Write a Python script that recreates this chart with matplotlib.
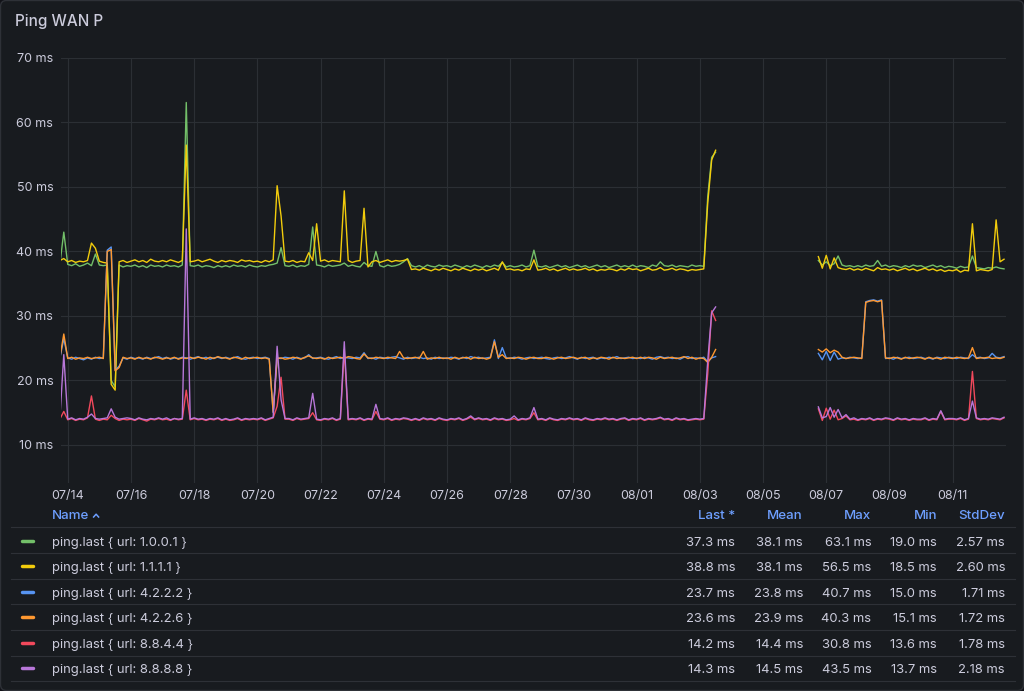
import matplotlib.pyplot as plt
import matplotlib.dates as mdates
from matplotlib.lines import Line2D
from matplotlib.patches import FancyBboxPatch
from matplotlib.transforms import IdentityTransform
import pandas as pd

plt.rcParams['font.family'] = ['Inter', 'DejaVu Sans']

nan = float('nan')

# samples every 3 h, starting 07/13 18:00
START = '2024-07-13 18:00'

URL_1001 = [
    38.0, 43.0,                                      # 07/13
    38.0, 37.8, 38.1, 37.7, 37.9, 38.2, 37.8, 39.6,  # 07/14
    37.9, 37.8, 37.9, 20.0, 19.0, 37.9, 37.6, 37.8,  # 07/15
    37.7, 37.9, 37.6, 37.8, 37.5, 37.9, 37.7, 37.8,  # 07/16
    37.6, 37.9, 37.7, 37.8, 37.6, 37.9, 63.1, 37.8,  # 07/17
    37.7, 37.9, 37.6, 37.8, 37.7, 37.5, 37.8, 37.6,  # 07/18
    37.8, 37.6, 37.9, 37.7, 37.8, 37.6, 37.9, 37.7,  # 07/19
    37.6, 37.8, 37.7, 37.9, 38.0, 38.2, 40.6, 37.8,  # 07/20
    37.7, 37.9, 37.6, 37.8, 37.7, 38.0, 43.8, 37.9,  # 07/21
    37.8, 37.6, 37.9, 37.7, 37.8, 37.9, 38.2, 37.7,  # 07/22
    37.9, 37.7, 37.6, 38.3, 37.8, 37.7, 40.0, 37.8,  # 07/23
    37.6, 37.9, 37.7, 37.8, 38.0, 38.4, 38.9, 37.8,  # 07/24
    37.6, 37.8, 37.5, 37.9, 37.7, 37.6, 37.9, 37.7,  # 07/25
    37.8, 37.6, 37.9, 37.7, 37.5, 37.8, 37.6, 37.9,  # 07/26
    37.7, 37.5, 37.8, 37.6, 37.9, 37.7, 38.3, 37.6,  # 07/27
    37.8, 37.6, 37.7, 37.9, 37.6, 37.8, 40.2, 37.7,  # 07/28
    37.6, 37.8, 37.5, 37.7, 37.9, 37.6, 37.8, 37.5,  # 07/29
    37.7, 37.9, 37.6, 37.8, 37.5, 37.7, 37.9, 37.6,  # 07/30
    37.8, 37.5, 37.7, 37.9, 37.6, 37.8, 37.6, 37.9,  # 07/31
    37.6, 37.8, 37.7, 37.5, 37.9, 37.7, 38.4, 37.8,  # 08/01
    37.7, 37.9, 37.6, 37.8, 37.7, 37.6, 37.9, 37.7,  # 08/02
    37.8, 37.7, 48.5, 54.6, 55.4, nan, nan, nan,     # 08/03
    nan, nan, nan, nan, nan, nan, nan, nan,          # 08/04
    nan, nan, nan, nan, nan, nan, nan, nan,          # 08/05
    nan, nan, nan, nan, nan, nan, 38.6, 37.9,        # 08/06
    38.4, 37.8, 38.1, 39.3, 37.9, 37.7, 37.8, 37.6,  # 08/07
    37.8, 37.6, 37.9, 37.7, 37.8, 38.6, 37.7, 37.9,  # 08/08
    37.6, 37.8, 37.7, 37.5, 37.8, 37.6, 37.9, 37.7,  # 08/09
    37.8, 37.5, 37.7, 37.9, 37.6, 37.8, 37.5, 37.7,  # 08/10
    37.6, 37.4, 37.7, 37.5, 37.6, 39.3, 37.5, 37.4,  # 08/11
    37.3, 37.5, 37.4, 37.6, 37.4, 37.3,              # 08/12
]

URL_1111 = [
    38.6, 38.9,
    38.4, 38.6, 38.3, 38.5, 38.4, 38.6, 41.3, 40.5,  # 07/14
    38.5, 38.3, 38.2, 19.4, 18.5, 38.4, 38.6, 38.3,  # 07/15
    38.5, 38.7, 38.4, 38.6, 38.3, 38.8, 38.5, 38.4,  # 07/16
    38.6, 38.4, 38.7, 38.5, 38.3, 38.6, 56.5, 38.4,  # 07/17
    38.5, 38.7, 38.4, 38.6, 38.8, 38.5, 38.3, 38.6,  # 07/18
    38.4, 38.6, 38.5, 38.3, 38.7, 38.5, 38.6, 38.4,  # 07/19
    38.5, 38.3, 38.6, 38.4, 38.7, 50.2, 45.5, 38.5,  # 07/20
    38.4, 38.6, 38.3, 38.5, 38.4, 39.8, 38.6, 44.3,  # 07/21
    38.5, 38.7, 38.4, 38.6, 38.5, 38.4, 49.4, 38.6,  # 07/22
    38.3, 38.5, 38.6, 46.7, 37.6, 38.4, 38.6, 38.3,  # 07/23
    38.5, 38.7, 38.4, 38.6, 38.5, 38.6, 38.8, 37.2,  # 07/24
    37.3, 37.1, 37.4, 37.2, 37.0, 37.3, 37.1, 37.4,  # 07/25
    37.2, 37.0, 37.3, 37.1, 37.4, 37.2, 37.0, 37.3,  # 07/26
    37.1, 37.3, 37.0, 37.2, 37.4, 37.1, 38.4, 37.2,  # 07/27
    37.3, 37.1, 37.2, 37.0, 37.3, 37.2, 38.7, 37.1,  # 07/28
    37.2, 37.4, 37.1, 37.3, 37.0, 37.2, 37.4, 37.1,  # 07/29
    37.3, 37.1, 37.2, 37.4, 37.1, 37.3, 37.0, 37.2,  # 07/30
    37.1, 37.3, 37.2, 37.0, 37.3, 37.1, 37.4, 37.2,  # 07/31
    37.3, 37.0, 37.2, 37.4, 37.1, 37.2, 37.5, 37.1,  # 08/01
    37.2, 37.4, 37.1, 37.3, 37.2, 37.0, 37.2, 37.1,  # 08/02
    37.2, 37.3, 47.5, 54.2, 55.7, nan, nan, nan,     # 08/03
    nan, nan, nan, nan, nan, nan, nan, nan,          # 08/04
    nan, nan, nan, nan, nan, nan, nan, nan,          # 08/05
    nan, nan, nan, nan, nan, nan, 39.2, 37.4,        # 08/06
    39.4, 37.3, 39.0, 37.5, 37.3, 37.2, 37.4, 37.1,  # 08/07
    37.3, 37.1, 37.4, 37.2, 37.0, 37.5, 37.2, 37.3,  # 08/08
    37.1, 37.3, 37.0, 37.2, 37.4, 37.1, 37.3, 37.0,  # 08/09
    37.2, 37.4, 37.1, 37.3, 37.0, 37.2, 36.9, 37.1,  # 08/10
    37.0, 37.2, 36.8, 37.1, 37.0, 44.3, 37.0, 37.2,  # 08/11
    37.1, 37.0, 37.2, 44.9, 38.4, 38.8,              # 08/12
]

URL_4222 = [
    23.4, 26.5,
    23.5, 23.3, 23.6, 23.4, 23.2, 23.5, 23.3, 23.6,  # 07/14
    23.4, 23.5, 40.2, 40.7, 21.6, 22.2, 23.5, 23.3,  # 07/15
    23.6, 23.4, 23.5, 23.3, 23.6, 23.4, 23.5, 23.7,  # 07/16
    23.4, 23.6, 23.3, 23.5, 23.4, 23.6, 23.5, 23.3,  # 07/17
    23.5, 23.7, 23.4, 23.6, 23.3, 23.5, 23.6, 23.4,  # 07/18
    23.6, 23.4, 23.5, 23.7, 23.4, 23.3, 23.5, 23.6,  # 07/19
    23.4, 23.5, 23.6, 23.4, 15.0, 23.5, 23.4, 23.6,  # 07/20
    23.5, 23.3, 23.6, 23.4, 23.5, 24.0, 23.4, 23.5,  # 07/21
    23.6, 23.4, 23.3, 23.5, 23.7, 23.4, 23.6, 23.5,  # 07/22
    23.4, 23.6, 23.5, 24.3, 23.4, 23.5, 23.3, 23.6,  # 07/23
    23.5, 23.4, 23.6, 23.7, 23.5, 23.3, 23.6, 23.4,  # 07/24
    23.5, 23.6, 23.4, 23.5, 23.3, 23.6, 23.4, 23.5,  # 07/25
    23.4, 23.6, 23.5, 23.3, 23.6, 23.4, 23.7, 23.5,  # 07/26
    23.6, 23.4, 23.5, 23.6, 26.3, 23.4, 25.1, 23.5,  # 07/27
    23.4, 23.6, 23.5, 23.3, 23.5, 23.6, 23.4, 23.5,  # 07/28
    23.6, 23.4, 23.3, 23.5, 23.6, 23.4, 23.5, 23.7,  # 07/29
    23.5, 23.3, 23.6, 23.4, 23.5, 23.6, 23.3, 23.5,  # 07/30
    23.4, 23.6, 23.5, 23.7, 23.4, 23.5, 23.6, 23.4,  # 07/31
    23.5, 23.4, 23.6, 23.5, 23.3, 23.6, 23.7, 23.5,  # 08/01
    23.6, 23.4, 23.5, 23.3, 23.6, 23.7, 23.4, 23.5,  # 08/02
    23.4, 23.6, 22.9, 23.5, 23.7, nan, nan, nan,     # 08/03
    nan, nan, nan, nan, nan, nan, nan, nan,          # 08/04
    nan, nan, nan, nan, nan, nan, nan, nan,          # 08/05
    nan, nan, nan, nan, nan, nan, 24.2, 23.2,        # 08/06
    24.5, 23.1, 24.4, 23.3, 23.5, 23.4, 23.6, 23.5,  # 08/07
    23.4, 23.5, 32.2, 32.4, 32.5, 32.3, 32.5, 23.4,  # 08/08
    23.5, 23.3, 23.6, 23.4, 23.5, 23.6, 23.4, 23.5,  # 08/09
    23.6, 23.4, 23.5, 23.3, 23.6, 23.5, 23.4, 23.6,  # 08/10
    23.5, 23.4, 23.6, 23.5, 23.4, 24.0, 23.5, 23.6,  # 08/11
    23.4, 23.5, 24.2, 23.6, 23.5, 23.7,              # 08/12
]

URL_4226 = [
    23.5, 27.2,
    23.4, 23.6, 23.3, 23.5, 23.4, 23.6, 23.4, 23.5,  # 07/14
    23.6, 23.4, 40.0, 40.3, 21.5, 22.0, 23.6, 23.4,  # 07/15
    23.5, 23.3, 23.6, 23.4, 23.5, 23.3, 23.6, 23.5,  # 07/16
    23.3, 23.5, 23.4, 23.6, 23.3, 23.5, 23.4, 23.6,  # 07/17
    23.4, 23.6, 23.5, 23.3, 23.6, 23.4, 23.7, 23.5,  # 07/18
    23.5, 23.3, 23.6, 23.5, 23.3, 23.6, 23.4, 23.5,  # 07/19
    23.6, 23.4, 23.5, 23.3, 15.1, 23.4, 23.5, 23.3,  # 07/20
    23.4, 23.6, 23.5, 23.3, 23.6, 23.8, 23.5, 23.4,  # 07/21
    23.5, 23.3, 23.6, 23.4, 23.5, 23.6, 23.4, 23.7,  # 07/22
    23.6, 23.4, 23.3, 24.1, 23.5, 23.4, 23.6, 23.5,  # 07/23
    23.4, 23.6, 23.5, 23.4, 24.5, 23.5, 23.4, 23.5,  # 07/24
    23.6, 23.4, 24.5, 23.3, 23.5, 23.4, 23.6, 23.4,  # 07/25
    23.5, 23.3, 23.6, 23.4, 23.5, 23.6, 23.3, 23.6,  # 07/26
    23.4, 23.5, 23.3, 23.5, 26.0, 23.6, 24.0, 23.4,  # 07/27
    23.5, 23.4, 23.6, 23.5, 23.3, 23.5, 23.6, 23.4,  # 07/28
    23.4, 23.6, 23.5, 23.3, 23.5, 23.6, 23.4, 23.5,  # 07/29
    23.6, 23.4, 23.5, 23.6, 23.3, 23.5, 23.4, 23.6,  # 07/30
    23.5, 23.3, 23.6, 23.4, 23.5, 23.4, 23.5, 23.6,  # 07/31
    23.4, 23.6, 23.4, 23.6, 23.5, 23.3, 23.6, 23.4,  # 08/01
    23.5, 23.6, 23.4, 23.5, 23.7, 23.4, 23.6, 23.3,  # 08/02
    23.5, 23.4, 22.8, 23.6, 24.8, nan, nan, nan,     # 08/03
    nan, nan, nan, nan, nan, nan, nan, nan,          # 08/04
    nan, nan, nan, nan, nan, nan, nan, nan,          # 08/05
    nan, nan, nan, nan, nan, nan, 24.8, 24.4,        # 08/06
    24.9, 24.3, 24.7, 24.4, 23.6, 23.4, 23.5, 23.6,  # 08/07
    23.5, 23.4, 32.1, 32.3, 32.4, 32.2, 32.4, 23.5,  # 08/08
    23.4, 23.6, 23.5, 23.3, 23.6, 23.4, 23.5, 23.6,  # 08/09
    23.5, 23.3, 23.6, 23.4, 23.5, 23.3, 23.6, 23.5,  # 08/10
    23.4, 23.6, 23.5, 23.4, 23.5, 25.1, 23.4, 23.5,  # 08/11
    23.5, 23.6, 23.4, 23.5, 23.4, 23.6,              # 08/12
]

URL_8844 = [
    14.0, 15.2,
    13.9, 14.1, 13.8, 14.0, 13.9, 14.2, 17.6, 14.0,  # 07/14
    13.8, 14.0, 13.9, 14.6, 14.1, 13.8, 14.0, 13.9,  # 07/15
    14.0, 13.8, 14.1, 13.9, 13.7, 14.0, 13.9, 14.1,  # 07/16
    13.9, 14.0, 13.8, 14.1, 13.9, 14.0, 18.5, 13.9,  # 07/17
    14.1, 13.9, 14.0, 13.8, 14.0, 13.9, 14.1, 13.8,  # 07/18
    14.0, 13.8, 13.9, 14.1, 13.8, 14.0, 13.9, 14.0,  # 07/19
    13.9, 14.1, 13.8, 14.0, 14.2, 16.0, 20.5, 14.0,  # 07/20
    14.0, 13.8, 14.1, 13.9, 14.0, 14.1, 15.0, 13.9,  # 07/21
    13.8, 14.0, 13.9, 14.1, 13.8, 14.0, 24.8, 13.9,  # 07/22
    14.0, 13.9, 14.1, 13.8, 14.0, 13.9, 15.2, 14.0,  # 07/23
    13.9, 14.1, 13.8, 14.0, 13.9, 14.1, 14.0, 13.8,  # 07/24
    14.0, 13.8, 14.1, 13.9, 14.0, 13.8, 14.1, 13.9,  # 07/25
    13.8, 14.0, 13.9, 14.1, 13.8, 14.0, 14.3, 13.9,  # 07/26
    14.1, 13.9, 14.0, 13.8, 14.1, 13.9, 14.0, 13.8,  # 07/27
    13.9, 14.1, 13.8, 14.0, 13.9, 14.1, 15.0, 13.9,  # 07/28
    14.0, 13.8, 14.1, 13.9, 13.8, 14.0, 13.9, 14.1,  # 07/29
    13.9, 14.0, 13.8, 14.1, 13.9, 13.8, 14.0, 13.9,  # 07/30
    14.1, 13.9, 14.0, 13.8, 14.0, 14.1, 13.8, 14.0,  # 07/31
    13.9, 14.1, 13.8, 14.0, 13.9, 14.0, 14.2, 13.9,  # 08/01
    14.0, 13.8, 14.1, 13.9, 14.0, 13.8, 13.9, 14.0,  # 08/02
    13.9, 14.0, 21.0, 30.8, 29.3, nan, nan, nan,     # 08/03
    nan, nan, nan, nan, nan, nan, nan, nan,          # 08/04
    nan, nan, nan, nan, nan, nan, nan, nan,          # 08/05
    nan, nan, nan, nan, nan, nan, 15.6, 13.8,        # 08/06
    15.7, 14.0, 15.4, 13.9, 14.1, 14.5, 13.9, 14.0,  # 08/07
    13.8, 14.0, 13.9, 14.1, 13.8, 14.0, 13.9, 14.1,  # 08/08
    14.0, 13.8, 14.1, 13.9, 14.0, 13.8, 14.0, 13.9,  # 08/09
    13.9, 14.1, 13.8, 14.0, 13.9, 15.2, 13.9, 14.0,  # 08/10
    14.0, 13.9, 14.1, 13.8, 14.0, 21.4, 14.1, 13.9,  # 08/11
    14.0, 13.9, 14.1, 14.0, 13.9, 14.2,              # 08/12
]

URL_8888 = [
    14.1, 24.0,
    14.0, 14.2, 13.9, 14.1, 14.0, 14.3, 14.8, 14.1,  # 07/14
    14.0, 14.1, 14.2, 15.6, 14.3, 14.0, 14.1, 14.2,  # 07/15
    14.1, 13.9, 14.2, 14.0, 13.9, 14.1, 14.0, 14.2,  # 07/16
    14.0, 14.2, 13.9, 14.1, 14.0, 14.1, 43.5, 14.0,  # 07/17
    14.2, 14.0, 14.1, 13.9, 14.1, 14.0, 14.2, 13.9,  # 07/18
    14.1, 13.9, 14.0, 14.2, 13.9, 14.1, 14.0, 14.1,  # 07/19
    14.0, 14.2, 13.9, 14.1, 14.3, 25.3, 17.0, 14.1,  # 07/20
    14.1, 13.9, 14.2, 14.0, 14.1, 14.2, 18.0, 14.0,  # 07/21
    13.9, 14.1, 14.0, 14.2, 13.9, 14.1, 26.0, 14.0,  # 07/22
    14.1, 14.0, 14.2, 13.9, 14.1, 14.0, 16.3, 14.1,  # 07/23
    14.0, 14.2, 13.9, 14.1, 14.0, 14.2, 14.1, 13.9,  # 07/24
    14.1, 13.9, 14.2, 14.0, 14.1, 13.9, 14.2, 14.0,  # 07/25
    13.9, 14.1, 14.0, 14.2, 13.9, 14.1, 14.5, 14.0,  # 07/26
    14.2, 14.0, 14.1, 13.9, 14.2, 14.0, 14.1, 13.9,  # 07/27
    14.0, 14.5, 13.9, 14.1, 14.0, 14.2, 15.8, 14.0,  # 07/28
    14.1, 13.9, 14.2, 14.0, 13.9, 14.1, 14.0, 14.2,  # 07/29
    14.0, 14.1, 13.9, 14.2, 14.0, 13.9, 14.1, 14.0,  # 07/30
    14.2, 14.0, 14.1, 13.9, 14.1, 14.2, 13.9, 14.1,  # 07/31
    14.0, 14.2, 13.9, 14.1, 14.0, 14.1, 14.3, 14.0,  # 08/01
    14.1, 13.9, 14.2, 14.0, 14.1, 13.9, 14.0, 14.1,  # 08/02
    14.0, 14.1, 23.0, 30.5, 31.4, nan, nan, nan,     # 08/03
    nan, nan, nan, nan, nan, nan, nan, nan,          # 08/04
    nan, nan, nan, nan, nan, nan, nan, nan,          # 08/05
    nan, nan, nan, nan, nan, nan, 15.9, 14.2,        # 08/06
    14.4, 15.8, 14.3, 15.5, 14.2, 14.7, 14.0, 14.2,  # 08/07
    13.9, 14.1, 14.0, 14.2, 13.9, 14.1, 14.0, 14.2,  # 08/08
    14.1, 13.9, 14.2, 14.0, 14.1, 13.9, 14.1, 14.0,  # 08/09
    14.0, 14.2, 13.9, 14.1, 14.0, 15.3, 14.0, 14.1,  # 08/10
    14.1, 14.0, 14.2, 13.9, 14.1, 16.8, 14.2, 14.0,  # 08/11
    14.1, 14.0, 14.2, 14.1, 14.0, 14.3,              # 08/12
]

names = ['ping.last { url: 1.0.0.1 }', 'ping.last { url: 1.1.1.1 }',
         'ping.last { url: 4.2.2.2 }', 'ping.last { url: 4.2.2.6 }',
         'ping.last { url: 8.8.4.4 }', 'ping.last { url: 8.8.8.8 }']
series = [URL_1001, URL_1111, URL_4222, URL_4226, URL_8844, URL_8888]
colors = ['#73bf69', '#f2cc0c', '#5794f2', '#ff9830', '#f2495c', '#b877d9']

stat_headers = ['Last *', 'Mean', 'Max', 'Min', 'StdDev']
last_vals = ['37.3 ms', '38.8 ms', '23.7 ms', '23.6 ms', '14.2 ms', '14.3 ms']
mean_vals = ['38.1 ms', '38.1 ms', '23.8 ms', '23.9 ms', '14.4 ms', '14.5 ms']
max_vals = ['63.1 ms', '56.5 ms', '40.7 ms', '40.3 ms', '30.8 ms', '43.5 ms']
min_vals = ['19.0 ms', '18.5 ms', '15.0 ms', '15.1 ms', '13.6 ms', '13.7 ms']
std_vals = ['2.57 ms', '2.60 ms', '1.71 ms', '1.72 ms', '1.78 ms', '2.18 ms']

BG = '#181b1f'
TEXT = '#ccccdc'
GRID = '#2b2f34'
SEP = '#2e3137'
LINK = '#6e9fff'

W, H = 1024, 691


def fx(x):
    return x / W


def fy(y):
    return 1 - y / H


fig = plt.figure(figsize=(W / 100, H / 100), dpi=100, facecolor='#111217')
panel = FancyBboxPatch((0.5, 0.5), W - 1, H - 1,
                       boxstyle='round,pad=0,rounding_size=6',
                       transform=IdentityTransform(), facecolor=BG,
                       edgecolor=SEP, lw=1, zorder=-10)
fig.patches.append(panel)

fig.text(fx(15), fy(26), 'Ping WAN P', color=TEXT, fontsize=11,
         fontweight='medium', va='baseline')

ax = fig.add_axes([fx(60.5), fy(483), (1006 - 60.5) / W, (483 - 58) / H])
ax.set_facecolor('none')

times = pd.date_range(START, periods=len(URL_1001), freq='3h')
for vals, c in zip(series, colors):
    ax.plot(times, vals, color=c, lw=1.0)

ax.set_xlim(pd.Timestamp('2024-07-13 18:30'), pd.Timestamp('2024-08-12 16:30'))
ax.set_ylim(4.1, 70)
yt = list(range(10, 80, 10))
ax.set_yticks(yt)
ax.set_yticklabels([f'{v} ms' for v in yt])
ax.set_xticks(pd.date_range('2024-07-14', '2024-08-11', freq='2D'))
ax.xaxis.set_major_formatter(mdates.DateFormatter('%m/%d'))
ax.grid(color=GRID, lw=0.8)
ax.set_axisbelow(True)
for s in ax.spines.values():
    s.set_visible(False)
ax.tick_params(axis='both', length=0, colors=TEXT, labelsize=9)
ax.tick_params(axis='y', pad=5.2)
ax.tick_params(axis='x', pad=5)

# legend table
col_right = [735, 803, 871.3, 937, 1005]
header_base = 519.3
fig.text(fx(52.3), fy(header_base), 'Name', color=LINK, fontsize=9.6,
         fontweight='medium', va='baseline')
fig.add_artist(Line2D([fx(93.6), fx(96.1), fx(98.6)], [fy(517), fy(514.2), fy(517)],
                      color=LINK, lw=1.1, transform=fig.transFigure))
for h, xr in zip(stat_headers, col_right):
    fig.text(fx(xr), fy(header_base), h, color=LINK, fontsize=9.6,
             fontweight='medium', va='baseline', ha='right')

sep_y = [527.3, 553.3, 578.7, 604.3, 629.7, 655.7, 681.3]
for y in sep_y:
    fig.add_artist(Line2D([fx(11), fx(1015)], [fy(y), fy(y)], color=SEP,
                          lw=0.8, transform=fig.transFigure))

row_step = 25.5
for i, (name, c) in enumerate(zip(names, colors)):
    yc = 540.7 + i * row_step
    fig.add_artist(Line2D([fx(21.7), fx(33)], [fy(yc), fy(yc)], color=c,
                          lw=2.5, solid_capstyle='round',
                          transform=fig.transFigure))
    fig.text(fx(52.3), fy(yc + 5), name, color=TEXT, fontsize=9.4, va='baseline')
    row = [last_vals[i], mean_vals[i], max_vals[i], min_vals[i], std_vals[i]]
    for v, xr in zip(row, col_right):
        fig.text(fx(xr), fy(yc + 5), v, color=TEXT, fontsize=9.4,
                 va='baseline', ha='right')

fig.savefig('out.png', dpi=100, facecolor=fig.get_facecolor())
